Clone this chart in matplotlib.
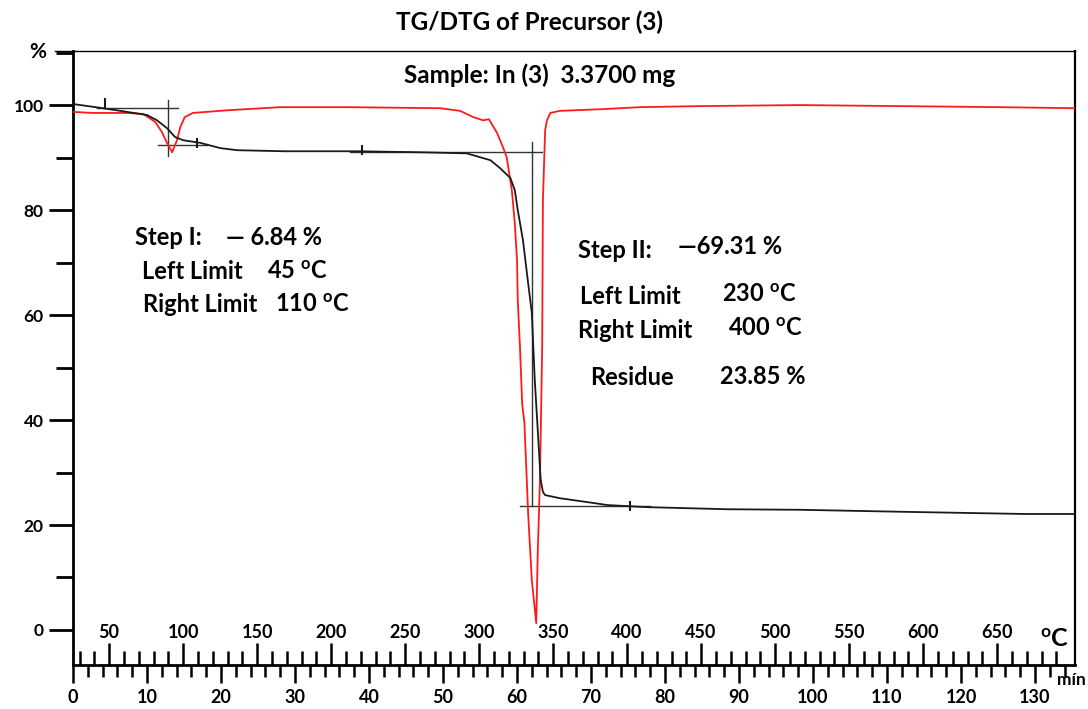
import matplotlib
matplotlib.use("Agg")
import matplotlib.pyplot as plt
from matplotlib.ticker import MultipleLocator, FixedLocator

plt.rcParams['font.family'] = ['Lato', 'DejaVu Sans']
plt.rcParams['font.weight'] = 'bold'
plt.rcParams['mathtext.fontset'] = 'custom'
plt.rcParams['mathtext.rm'] = 'Lato:bold'
plt.rcParams['mathtext.it'] = 'Lato:bold'
plt.rcParams['mathtext.bf'] = 'Lato:bold'

# TG curve (time in min, mass %)
tg_time = [0, 4.05, 7.3, 10.0, 11.35, 12.7, 13.8, 14.9, 17.2, 19.9, 22.2, 28.6, 38.4, 47.3,
           53.2, 56.4, 57.7, 59.1, 59.7, 60.1, 60.8, 61.5, 62.0, 62.4, 62.8, 63.2, 63.5,
           63.8, 65.8, 70.3, 72.2, 77.6, 88.5, 98.2, 112.7, 128.6, 135.4]
tg_mass = [100.2, 99.4, 98.7, 98.1, 97.1, 95.6, 93.9, 93.3, 92.8, 91.8, 91.4, 91.2, 91.2, 91.0,
           90.8, 89.5, 88.0, 86.1, 83.8, 80.0, 74.3, 66.1, 60.4, 47.6, 38.1, 28.6, 26.3,
           25.7, 25.1, 24.2, 23.8, 23.4, 23.0, 22.9, 22.5, 22.1, 22.1]

# DTG curve (same axis, arbitrary offset)
dtg_time = [0, 2.7, 7.3, 9.5, 11.1, 12.0, 12.7, 13.4, 14.05, 14.5, 15.1, 16.2, 20.8, 28.0,
            37.4, 49.6, 52.3, 54.1, 55.4, 56.2, 57.3, 58.1, 58.6, 59.3, 59.7, 60.0, 60.1,
            60.4, 60.7, 61.0, 61.5, 62.0, 62.6, 62.8, 63.1, 63.4, 63.5, 63.8, 64.05, 64.5,
            65.8, 71.2, 76.6, 84.7, 98.2, 111.8, 125.3, 135.4]
dtg_value = [98.7, 98.5, 98.5, 98.3, 96.8, 94.9, 92.8, 91.0, 93.3, 95.8, 97.7, 98.5, 99.0, 99.6,
             99.6, 99.4, 98.9, 97.7, 97.1, 97.3, 94.7, 92.0, 90.1, 83.8, 77.5, 70.5, 62.9,
             53.9, 43.0, 39.5, 22.3, 9.5, 1.3, 14.7, 28.6, 53.9, 81.9, 95.2, 97.1, 98.5,
             98.9, 99.2, 99.6, 99.8, 100.0, 99.8, 99.6, 99.4]

# step construction lines: (t0, v0, t1, v1)
step_lines = [
    (3.2, 99.4, 14.2, 99.4),
    (12.8, 101.0, 12.8, 90.3),
    (11.5, 92.4, 18.1, 92.4),
    (37.4, 91.0, 63.4, 91.0),
    (62.0, 93.0, 62.0, 23.6),
    (60.4, 23.6, 78.0, 23.6),
]
flag_time = [4.3, 16.8, 39.1, 75.3]
flag_mass = [100.4, 92.8, 91.5, 23.6]

time_ticks = list(range(0, 131, 10))
temp_ticks = list(range(50, 651, 50))
pct_ticks = [0, 20, 40, 60, 80, 100]
T0, RATE = 25.6, 5.0

notes = [
    (135, 238, "Step I:"), (226, 238, "\u2014 6.84 %"),
    (142, 271, "Left Limit"), (267, 271, "45 $^{\\rm o}$C"),
    (143, 305, "Right Limit"), (275, 305, "110 $^{\\rm o}$C"),
    (578, 250, "Step II:"), (678, 246, "\u201469.31 %"),
    (580, 297, "Left Limit"), (722, 295, "230 $^{\\rm o}$C"),
    (578, 331, "Right Limit"), (728, 329, "400 $^{\\rm o}$C"),
    (590, 378, "Residue"), (720, 377, "23.85 %"),
]

W, H = 1088, 709
fig = plt.figure(figsize=(W / 100, H / 100), dpi=100)
ax = fig.add_axes([73 / W, 44 / H, (1075 - 73) / W, (665 - 51) / H])

ax.plot(dtg_time, dtg_value, color='#ff1a1a', lw=1.3, zorder=3)
ax.plot(tg_time, tg_mass, color='#1a1a1a', lw=1.3, zorder=4)
for t0, v0, t1, v1 in step_lines:
    ax.plot([t0, t1], [v0, v1], color='#333333', lw=1.0, zorder=2)
ax.plot(flag_time, flag_mass, ls='none', marker='|', ms=7, mew=1.5, color='#1a1a1a', zorder=5)

ax.set_xlim(0, 135.4)
ax.set_ylim(-6.67, 110.3)

for s in ['left', 'bottom']:
    ax.spines[s].set_linewidth(2.0)
ax.spines['right'].set_linewidth(1.6)
ax.spines['top'].set_linewidth(1.0)
ax.plot([-0.018, 0], [1, 1], transform=ax.transAxes, color='black', lw=1.0, clip_on=False)

ax.yaxis.set_major_locator(FixedLocator(pct_ticks))
ax.yaxis.set_minor_locator(MultipleLocator(10))
ax.tick_params(axis='y', which='major', direction='out', length=17, width=2, pad=4, labelsize=12.5)
ax.tick_params(axis='y', which='minor', direction='out', length=12.5, width=2)

ax.xaxis.set_major_locator(FixedLocator(time_ticks))
ax.xaxis.set_minor_locator(MultipleLocator(2))
ax.tick_params(axis='x', which='major', direction='out', length=13, width=1.8, pad=4, labelsize=13)
ax.tick_params(axis='x', which='minor', direction='out', length=8.5, width=1.8)

sec = ax.secondary_xaxis(0.0, functions=(lambda t: T0 + RATE * t, lambda T: (T - T0) / RATE))
sec.set_alignment('top')
sec.spines['top'].set_visible(False)
sec.spines['bottom'].set_visible(False)
sec.xaxis.set_major_locator(FixedLocator(temp_ticks))
sec.xaxis.set_minor_locator(FixedLocator(list(range(30, 700, 10))))
sec.tick_params(axis='x', which='major', direction='out', length=16, width=1.8, pad=1, labelsize=13)
sec.tick_params(axis='x', which='minor', direction='out', length=10, width=1.8)

ax.text(-0.035, 0.998, "%", transform=ax.transAxes, ha='center', va='center', fontsize=15)
ax.text(0.98, 0.042, "$^{\\rm o}$C", transform=ax.transAxes, ha='center', va='center', fontsize=18)
fig.text(1086 / W, 1 - 680 / H, "mín", ha='right', va='center', fontsize=12.5)

fig.text(530 / W, 1 - 22 / H, "TG/DTG of Precursor (3)", ha='center', va='center', fontsize=17.5)
fig.text(540 / W, 1 - 75 / H, "Sample: In (3)  3.3700 mg", ha='center', va='center', fontsize=17.5)
for px, py, s in notes:
    fig.text(px / W, 1 - py / H, s, ha='left', va='center', fontsize=17)

fig.savefig("out.png", dpi=100)
